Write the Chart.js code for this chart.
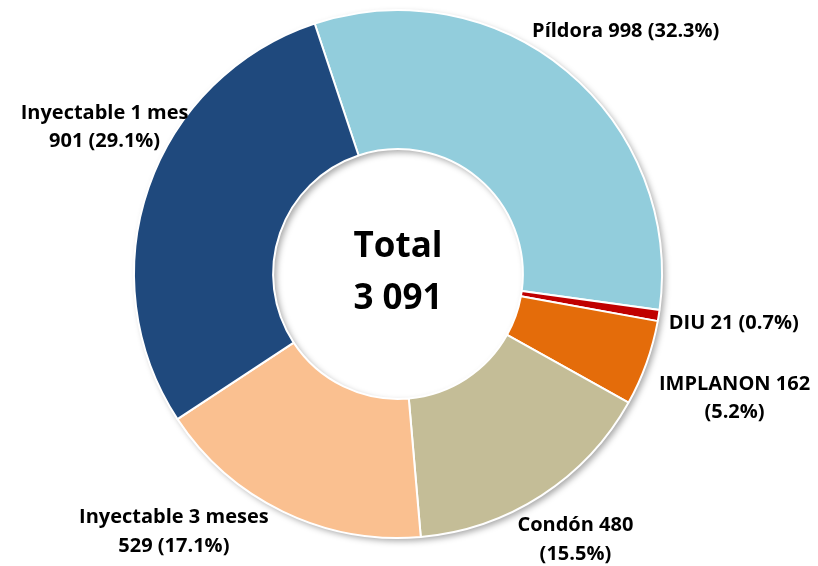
<!DOCTYPE html>
<html><head><meta charset="utf-8">
<script src="https://cdn.jsdelivr.net/npm/chart.js@4/dist/chart.umd.min.js"></script>
<style>html,body{margin:0;padding:0;background:#fff;}#wrap{width:818px;height:566px;}</style>
</head><body><div id="wrap"><canvas id="c" width="818" height="566"></canvas></div>
<script>
const categories = ['Píldora', 'DIU', 'IMPLANON', 'Condón', 'Inyectable 3 meses', 'Inyectable 1 mes'];
const values = [998, 21, 162, 480, 529, 901];
const percentLabels = ['32.3%', '0.7%', '5.2%', '15.5%', '17.1%', '29.1%'];
const centerTitle = 'Total';
const totalLabel = '3 091';

const sliceColors = ['#92CDDC', '#C00000', '#E46C0A', '#C4BD97', '#FAC090', '#1F497D'];
// label layout: whether to break after the category name / after the value, and offset from the arc's outer mid point
const labelBreak = ['none', 'none', 'value', 'value', 'name', 'name'];
const labelOffset = [[59, -40], [75, 8], [88, 35], [34, 44], [-109, 20], [-44, -60]];
const FONT = '"Open Sans", Lato, sans-serif';

function labelLines(i) {
  const name = categories[i], v = String(values[i]), p = '(' + percentLabels[i] + ')';
  if (labelBreak[i] === 'name') return [name, v + ' ' + p];
  if (labelBreak[i] === 'value') return [name + ' ' + v, p];
  return [name + ' ' + v + ' ' + p];
}

const shadowPlugin = {
  id: 'ringShadow',
  beforeDatasetsDraw(chart) {
    const meta = chart.getDatasetMeta(0);
    const a = meta.data[0];
    const ctx = chart.ctx;
    ctx.save();
    ctx.shadowColor = 'rgba(0,0,0,0.35)';
    ctx.shadowBlur = 6;
    ctx.shadowOffsetX = 3;
    ctx.shadowOffsetY = 3;
    ctx.fillStyle = '#ffffff';
    ctx.beginPath();
    ctx.arc(a.x, a.y, a.outerRadius, 0, Math.PI * 2);
    ctx.arc(a.x, a.y, a.innerRadius, 0, Math.PI * 2, true);
    ctx.fill();
    ctx.restore();
  }
};

const labelPlugin = {
  id: 'outLabels',
  afterDatasetsDraw(chart) {
    const ctx = chart.ctx;
    const meta = chart.getDatasetMeta(0);
    ctx.save();
    ctx.fillStyle = '#000';
    ctx.textAlign = 'center';
    ctx.textBaseline = 'middle';
    ctx.font = 'bold 20px ' + FONT;
    const lh = 28.5;
    meta.data.forEach((arc, i) => {
      const mid = (arc.startAngle + arc.endAngle) / 2;
      const px = arc.x + Math.cos(mid) * arc.outerRadius + labelOffset[i][0];
      const py = arc.y + Math.sin(mid) * arc.outerRadius + labelOffset[i][1];
      const lines = labelLines(i);
      const y0 = py - (lines.length - 1) * lh / 2;
      lines.forEach((t, k) => ctx.fillText(t, px, y0 + k * lh));
    });
    const a = meta.data[0];
    ctx.font = 'bold 35px ' + FONT;
    ctx.fillText(centerTitle, a.x, a.y - 27);
    ctx.fillText(totalLabel, a.x, a.y + 25);
    ctx.restore();
  }
};

new Chart(document.getElementById('c'), {
  type: 'doughnut',
  data: {
    labels: categories,
    datasets: [{
      data: values,
      backgroundColor: sliceColors,
      borderColor: '#ffffff',
      borderWidth: 2,
      hoverOffset: 0
    }]
  },
  options: {
    responsive: false,
    animation: false,
    devicePixelRatio: 1,
    rotation: -18.4,
    cutout: '47.3%',
    layout: { padding: { top: 9, bottom: 27, left: 0, right: 22 } },
    plugins: { legend: { display: false }, tooltip: { enabled: false } },
    events: []
  },
  plugins: [shadowPlugin, labelPlugin]
});
</script></body></html>
